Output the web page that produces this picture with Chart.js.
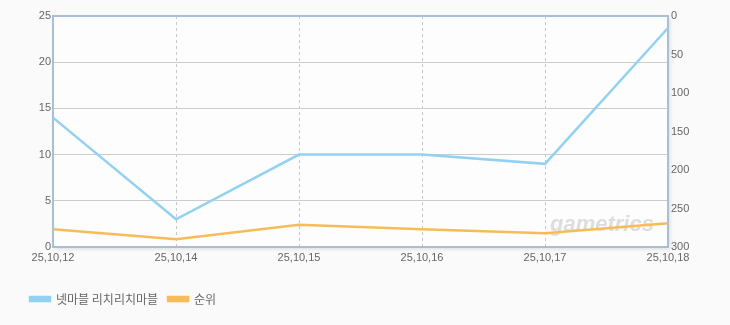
<!DOCTYPE html>
<html>
<head>
<meta charset="utf-8">
<script src="https://cdn.jsdelivr.net/npm/chart.js@4"></script>
<style>
  html, body { margin: 0; padding: 0; background: #fafafa; }
  #wrap { width: 730px; height: 325px; }
</style>
</head>
<body>
<div id="wrap"><canvas id="chart" width="730" height="325"></canvas></div>
<script>
var labels = ['25,10,12', '25,10,14', '25,10,15', '25,10,16', '25,10,17', '25,10,18'];
var gameName = '넷마블 리치리치마블';
var gameValues = [14, 3, 10, 10, 9, 23.7];
var rankName = '순위';
var rankValues = [277, 290, 271, 277, 282, 269];

var borderBlue = '#a9bfd6';
var tickFont = { family: 'Liberation Sans, Arial, sans-serif', size: 11 };

// plot background + watermark
var plotBg = {
  id: 'plotBg',
  beforeDraw: function(chart) {
    var a = chart.chartArea, ctx = chart.ctx;
    ctx.save();
    ctx.shadowColor = 'rgba(0,0,0,0.12)';
    ctx.shadowBlur = 4;
    ctx.shadowOffsetX = 2;
    ctx.shadowOffsetY = 2;
    ctx.fillStyle = '#fdfdfd';
    ctx.fillRect(a.left, a.top, a.right - a.left, a.bottom - a.top);
    ctx.restore();
  },
  beforeDatasetsDraw: function(chart) {
    var a = chart.chartArea, ctx = chart.ctx;
    ctx.save();
    ctx.fillStyle = 'rgba(150,150,150,0.3)';
    ctx.font = 'italic bold 22px "Liberation Sans", Arial, sans-serif';
    ctx.textBaseline = 'alphabetic';
    ctx.fillText('gametrics', a.right - 118, a.bottom - 16, 108);
    ctx.restore();
  }
};

new Chart('chart', {
  type: 'line',
  data: {
    labels: labels,
    datasets: [
      {
        label: gameName,
        data: gameValues,
        yAxisID: 'y',
        borderColor: '#92d1f1',
        backgroundColor: '#92d1f1',
        borderWidth: 2.5,
        pointRadius: 0,
        tension: 0
      },
      {
        label: rankName,
        data: rankValues,
        yAxisID: 'y1',
        borderColor: '#f8bb5a',
        backgroundColor: '#f8bb5a',
        borderWidth: 2.5,
        pointRadius: 0,
        tension: 0
      }
    ]
  },
  options: {
    responsive: false,
    animation: false,
    layout: { padding: { left: 20, right: 0, top: 16, bottom: 10 } },
    scales: {
      x: {
        offset: false,
        ticks: { color: '#666', font: tickFont, padding: 4, maxRotation: 0, autoSkip: false },
        grid: {
          drawTicks: false,
          color: function(c) {
            return (c.index === 0 || c.index === labels.length - 1) ? 'rgba(0,0,0,0)' : '#c8c8c8';
          }
        },
        border: { color: borderBlue, width: 2, dash: [3, 3] },
        afterFit: function(s) { s.height = 36; }
      },
      y: {
        position: 'left',
        min: 0, max: 25,
        ticks: { stepSize: 5, color: '#666', font: tickFont, padding: 2 },
        grid: {
          drawTicks: false,
          color: function(c) { return c.tick.value === 25 ? borderBlue : '#cccccc'; },
          lineWidth: function(c) { return c.tick.value === 25 ? 2 : 1; }
        },
        border: { color: borderBlue, width: 2 },
        afterFit: function(s) { s.width = 33; }
      },
      y1: {
        position: 'right',
        reverse: true,
        min: 0, max: 300,
        ticks: { stepSize: 50, color: '#666', font: tickFont, padding: 3 },
        grid: { display: false, drawTicks: false },
        border: { color: borderBlue, width: 2 },
        afterFit: function(s) { s.width = 62; }
      }
    },
    plugins: {
      legend: {
        position: 'bottom',
        align: 'start',
        labels: {
          boxWidth: 20,
          boxHeight: 4,
          padding: 10,
          color: '#666',
          font: { family: '"Noto Sans CJK KR", sans-serif', size: 12 }
        }
      },
      tooltip: { enabled: false }
    }
  },
  plugins: [plotBg]
});
</script>
</body>
</html>
